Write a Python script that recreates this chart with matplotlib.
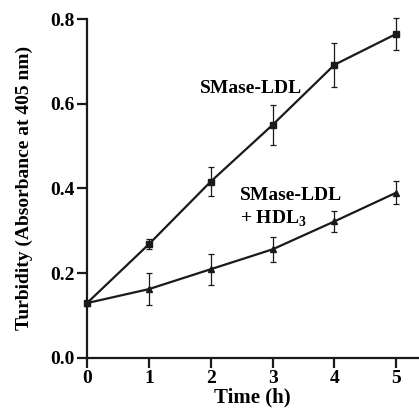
import matplotlib
matplotlib.use("Agg")
import matplotlib.pyplot as plt

time_h = [0, 1, 2, 3, 4, 5]
smase_ldl = [0.129, 0.268, 0.416, 0.550, 0.692, 0.765]
smase_ldl_err = [0.0, 0.012, 0.035, 0.048, 0.052, 0.037]
smase_hdl = [0.129, 0.162, 0.209, 0.256, 0.322, 0.390]
smase_hdl_err = [0.0, 0.038, 0.037, 0.030, 0.024, 0.027]
yticks = [0.0, 0.2, 0.4, 0.6, 0.8]
xticks = [0, 1, 2, 3, 4, 5]

plt.rcParams['font.family'] = ['Liberation Serif', 'DejaVu Serif']
plt.rcParams['font.weight'] = 'bold'
plt.rcParams['mathtext.fontset'] = 'custom'
plt.rcParams['mathtext.rm'] = 'Liberation Serif:bold'
plt.rcParams['mathtext.bf'] = 'Liberation Serif:bold'

fig = plt.figure(figsize=(4.19, 4.12), dpi=100)
ax = fig.add_axes([0.2076, 0.1318, 0.79, 0.822])

ax.errorbar(time_h, smase_ldl, yerr=smase_ldl_err, color='#1a1a1a', lw=1.6,
            marker='s', ms=4.5, elinewidth=0.9, capsize=2, capthick=0.9, clip_on=False)
ax.errorbar(time_h, smase_hdl, yerr=smase_hdl_err, color='#1a1a1a', lw=1.6,
            marker='^', ms=4.5, elinewidth=0.9, capsize=2, capthick=0.9, clip_on=False)

ax.set_xlim(0, 5.35)
ax.set_ylim(0, 0.8)
ax.set_xticks(xticks)
ax.set_xticklabels([str(t) for t in xticks])
ax.set_yticks(yticks)
ax.set_yticklabels([f"{v:.1f}" for v in yticks])

for s in ['top', 'right']:
    ax.spines[s].set_visible(False)
for s in ['left', 'bottom']:
    ax.spines[s].set_linewidth(1.6)
    ax.spines[s].set_color('#1a1a1a')
ax.tick_params(direction='out', length=7, width=1.6, color='#1a1a1a', labelsize=14, pad=2)

ax.set_xlabel('Time (h)', fontsize=15, fontweight='bold', labelpad=0)
ax.set_ylabel('Turbidity (Absorbance at 405 nm)', fontsize=14, fontweight='bold', labelpad=12)

ax.text(1.83, 0.635, 'SMase-LDL', fontsize=14, fontweight='bold', ha='left', va='center')
ax.text(2.47, 0.384, 'SMase-LDL', fontsize=14, fontweight='bold', ha='left', va='center')
ax.text(2.47, 0.328, '+ HDL$_\\mathbf{3}$', fontsize=14, fontweight='bold', ha='left', va='center')

fig.savefig('out.png', dpi=100)
